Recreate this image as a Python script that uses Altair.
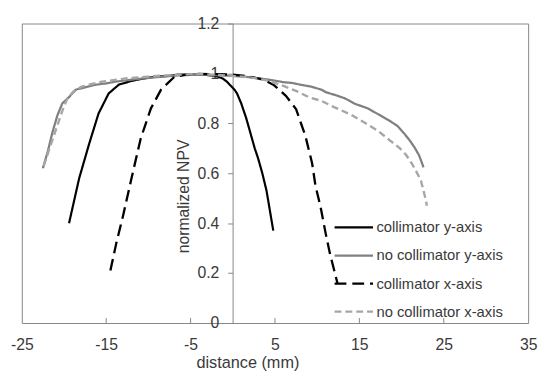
import altair as alt
import pandas as pd

# ---------------- data ----------------
series_names = ["collimator y-axis", "no collimator y-axis",
                "collimator x-axis", "no collimator x-axis"]

coll_y_x = [-19.4, -18.8, -18.2, -17.0, -15.9, -14.7, -13.5, -12.0, -10.5, -9.2,
            -7.5, -6.5, -5.0, -3.5, -2.0, -1.2, -0.7, 0.2, 0.5, 1.0, 1.6, 2.1,
            2.6, 3.0, 3.5, 4.0, 4.4, 4.8]
coll_y_v = [0.40, 0.49, 0.58, 0.72, 0.84, 0.92, 0.955, 0.97, 0.98, 0.987,
            0.99, 0.995, 0.995, 0.995, 0.99, 0.98, 0.967, 0.935, 0.92, 0.88, 0.82, 0.76,
            0.70, 0.66, 0.60, 0.53, 0.45, 0.37]

nocoll_y_x = [-22.5, -21.9, -21.4, -20.8, -20.2, -19.4, -18.6, -17.4, -16.2, -15.0,
              -13.9, -12.0, -10.0, -8.0, -6.0, -4.0, -2.0, 0.0, 2.0, 4.3, 6.0, 7.0,
              8.0, 9.3, 10.5, 11.0, 12.1, 13.3, 14.5, 16.0, 17.2, 18.5, 19.5, 20.3,
              21.0, 21.6, 22.1, 22.6]
nocoll_y_v = [0.62, 0.69, 0.76, 0.83, 0.88, 0.905, 0.935, 0.945, 0.955, 0.960,
              0.967, 0.975, 0.982, 0.988, 0.993, 0.995, 0.993, 0.99, 0.985, 0.975, 0.965, 0.962,
              0.955, 0.947, 0.935, 0.925, 0.914, 0.90, 0.878, 0.86, 0.837, 0.812, 0.79, 0.76,
              0.73, 0.70, 0.67, 0.624]

coll_x_x = [-14.5, -13.8, -13.0, -12.0, -10.9, -9.7, -8.5, -6.9, -5.5, -4.0,
            -2.0, 0.0, 1.5, 3.0, 3.6, 4.8, 5.5, 6.3, 7.5, 8.6, 9.4, 9.8, 10.4,
            11.0, 11.5, 12.1, 12.4]
coll_x_v = [0.21, 0.32, 0.43, 0.58, 0.74, 0.86, 0.935, 0.987, 0.995, 0.998,
            0.997, 0.995, 0.99, 0.98, 0.975, 0.955, 0.935, 0.91, 0.857, 0.75, 0.64, 0.55, 0.466,
            0.36, 0.28, 0.20, 0.16]

nocoll_x_x = [-22.4, -21.6, -20.9, -20.2, -19.6, -18.8, -17.9, -16.7, -15.5, -14.0,
              -12.7, -10.5, -8.0, -6.0, -4.0, -2.0, 0.0, 2.0, 4.3, 6.0, 7.5, 9.0,
              10.5, 12.0, 14.0, 15.5, 17.2, 18.5, 19.8, 20.5, 21.2, 21.7, 22.3, 22.9, 23.0]
nocoll_x_v = [0.63, 0.71, 0.78, 0.85, 0.90, 0.93, 0.947, 0.958, 0.967, 0.974,
              0.98, 0.986, 0.992, 0.996, 0.997, 0.995, 0.99, 0.985, 0.97, 0.95, 0.93, 0.905,
              0.89, 0.865, 0.835, 0.805, 0.77, 0.735, 0.70, 0.675, 0.64, 0.61, 0.57, 0.49, 0.47]

x_ticks = [-25, -15, -5, 5, 15, 25, 35]
inner_x_ticks = [-15, -5, 5, 15, 25]
y_ticks = [0, 0.2, 0.4, 0.6, 0.8, 1.0, 1.2]

series_colors = ["#000000", "#808080", "#000000", "#a6a6a6"]
series_dashes = [[1, 0], [1, 0], [12, 6], [7, 4]]
series_widths = [2.2, 2.4, 2.2, 1.2]

rows = []
for name, xs, ys in [(series_names[0], coll_y_x, coll_y_v),
                     (series_names[1], nocoll_y_x, nocoll_y_v),
                     (series_names[2], coll_x_x, coll_x_v),
                     (series_names[3], nocoll_x_x, nocoll_x_v)]:
    for i, (xv, yv) in enumerate(zip(xs, ys)):
        rows.append({"series": name, "distance": xv, "npv": yv, "idx": i})
df = pd.DataFrame(rows)
tick_df = pd.DataFrame({"distance": inner_x_ticks})

# ---------------- chart ----------------
W, H = 514, 304
FONT = "Liberation Sans"
AXIS_GRAY = "#868686"
TEXT = "#3a3a3a"

x_scale = alt.Scale(domain=[-25, 35], nice=False, zero=False)
y_scale = alt.Scale(domain=[0, 1.2], nice=False)

lines = alt.Chart(df).mark_line(strokeCap="butt", strokeJoin="round").encode(
    x=alt.X("distance:Q", scale=x_scale,
            axis=alt.Axis(values=x_ticks, title="distance (mm)", tickSize=0, domain=False,
                          grid=False, labelPadding=14, labelFontSize=16, titleFontSize=16.5,
                          labelExpr="'' + datum.value",
                          labelFont=FONT, titleFont=FONT, labelColor=TEXT, titleColor=TEXT,
                          titleFontWeight="normal", titleBaseline="middle", titleY=40,
                          titleX=229, titleAlign="center",
                          labelFlush=False)),
    y=alt.Y("npv:Q", scale=y_scale,
            axis=alt.Axis(values=y_ticks, format="~g", title="normalized NPV", offset=-214,
                          tickSize=5, tickColor=AXIS_GRAY, domainColor=AXIS_GRAY,
                          grid=False, labelPadding=9, labelFontSize=16, titleFontSize=16,
                          labelFont=FONT, titleFont=FONT, labelColor=TEXT, titleColor=TEXT,
                          titleFontWeight="normal", titleX=-50, titleY=175,
                          titleBaseline="middle", titleAlign="center")),
    color=alt.Color("series:N", scale=alt.Scale(domain=series_names, range=series_colors),
                    legend=alt.Legend(title=None)),
    strokeDash=alt.StrokeDash("series:N", scale=alt.Scale(domain=series_names, range=series_dashes),
                              legend=alt.Legend(title=None)),
    strokeWidth=alt.StrokeWidth("series:N", scale=alt.Scale(domain=series_names, range=series_widths),
                                legend=alt.Legend(title=None)),
    order="idx:Q",
)

ticks = alt.Chart(tick_df).mark_rule(color=AXIS_GRAY, strokeWidth=1).encode(
    x=alt.X("distance:Q", scale=x_scale),
    y=alt.value(H),
    y2=alt.value(H - 5),
)

chart = alt.layer(lines, ticks).properties(
    width=W, height=H,
    autosize=alt.AutoSizeParams(type="none"),
    padding={"left": 14, "top": 13, "right": 10, "bottom": 47},
).configure_view(
    stroke=AXIS_GRAY, strokeWidth=1
).configure_legend(
    orient="none", legendX=329, legendY=199,
    symbolType="M-3,0H3", symbolSize=169, labelOffset=15,
    rowPadding=12.5, labelFontSize=15, labelFont=FONT, labelColor=TEXT,
    symbolFillColor="transparent",
)

chart.save("out.html", embed_options={"renderer": "svg", "actions": False})
